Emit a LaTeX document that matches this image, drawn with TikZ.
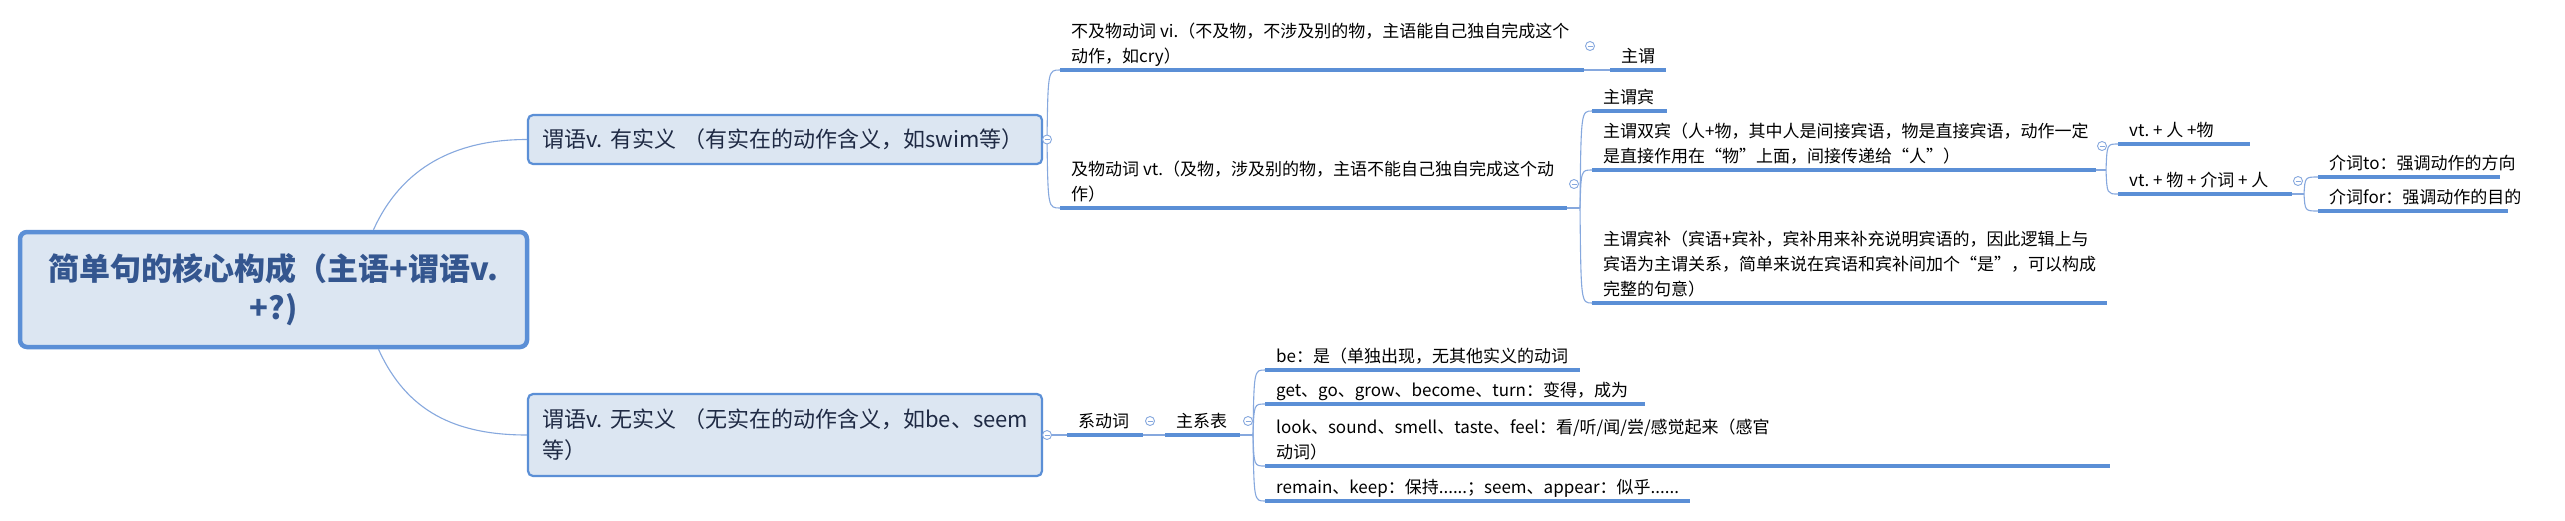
\documentclass[tikz,border=0pt]{standalone}
\usepackage{fontspec}
\setmainfont{Noto Sans CJK SC}
\usetikzlibrary{calc}
\definecolor{boxfill}{HTML}{DCE6F2}
\definecolor{boxline}{HTML}{5B8FD6}
\definecolor{ulcol}{HTML}{5B8FD6}
\definecolor{conncol}{HTML}{86A8DE}
\definecolor{roottext}{HTML}{34568F}
\definecolor{midtext}{HTML}{1F2A44}
\tikzset{
  rootbox/.style={draw=boxline, line width=4.5pt, fill=boxfill, rounded corners=7pt,
    minimum width=507pt, minimum height=115pt, align=center,
    font=\fontsize{31}{39}\selectfont\bfseries, text=roottext},
  midbox/.style={draw=boxline, line width=2.2pt, fill=boxfill, rounded corners=5pt,
    minimum width=514pt, align=left, text width=486pt, inner xsep=14pt,
    font=\fontsize{22}{31}\selectfont, text=midtext},
  utopic/.style={font=\fontsize{17}{25}\selectfont, inner xsep=11pt, inner ysep=0pt,
    anchor=south west, align=left, execute at end node=\strut},
  uline/.style={draw=ulcol, line width=3.2pt},
  conn/.style={draw=conncol, line width=1.1pt},
  collapse/.style={circle, draw=conncol, fill=white, line width=0.9pt, minimum size=9pt,
    inner sep=0pt, path picture={\draw[conncol, line width=0.9pt]
      ([xshift=-2.5pt]path picture bounding box.center) -- ([xshift=2.5pt]path picture bounding box.center);}},
}
\newcommand\brk[2]{\draw[conn] (#1) .. controls ($(#1 |- #2)+(1,0)$) and ($(#1 |- #2)+(1,0)$) .. (#2);}
\begin{document}
\begin{tikzpicture}[x=1pt,y=-1pt]
\fill[white] (0,0) rectangle (2565,520);
\useasboundingbox (0,0) rectangle (2565,520);

% main boxes
\node[rootbox] (root) at (273.5,289.5) {简单句的核心构成（主语+谓语v.\\+?)};
\node[midbox, minimum height=49pt] (A) at (785,139.5) {谓语v.~有实义~（有实在的动作含义，如swim等）};
\node[midbox, minimum height=82pt] (B) at (785,435) {谓语v.~无实义~（无实在的动作含义，如be、seem\\等）};

% upper branch topics
\node[utopic] (vi) at (1060,70) {不及物动词~vi.（不及物，不涉及别的物，主语能自己独自完成这个\\动作，如cry）};
\draw[uline] (vi.south west) -- ++(524,0) coordinate (vi-e);
\node[utopic] (zw) at (1610,70) {主谓};
\draw[uline] (zw.south west) -- ++(56,0) coordinate (zw-e);
\node[utopic] (vt) at (1060,208) {及物动词~vt.（及物，涉及别的物，主语不能自己独自完成这个动\\作）};
\draw[uline] (vt.south west) -- ++(507,0) coordinate (vt-e);
\node[utopic] (zwb) at (1592,111) {主谓宾};
\draw[uline] (zwb.south west) -- ++(75,0) coordinate (zwb-e);
\node[utopic] (sb) at (1592,170) {主谓双宾（人+物，其中人是间接宾语，物是直接宾语，动作一定\\是直接作用在“物”上面，间接传递给“人”）};
\draw[uline] (sb.south west) -- ++(504,0) coordinate (sb-e);
\node[utopic] (sbb) at (1592,303) {主谓宾补（宾语+宾补，宾补用来补充说明宾语的，因此逻辑上与\\宾语为主谓关系，简单来说在宾语和宾补间加个“是”，可以构成\\完整的句意）};
\draw[uline] (sbb.south west) -- ++(515,0) coordinate (sbb-e);
\node[utopic] (v1) at (2118,144) {vt.~+~人~+物};
\draw[uline] (v1.south west) -- ++(132,0) coordinate (v1-e);
\node[utopic] (v2) at (2118,194) {vt.~+~物~+~介词~+~人};
\draw[uline] (v2.south west) -- ++(174,0) coordinate (v2-e);
\node[utopic] (pto) at (2318,177) {介词to：强调动作的方向};
\draw[uline] (pto.south west) -- ++(182,0) coordinate (pto-e);
\node[utopic] (pfor) at (2318,211) {介词for：强调动作的目的};
\draw[uline] (pfor.south west) -- ++(190,0) coordinate (pfor-e);

% lower branch topics
\node[utopic] (xdc) at (1067,435) {系动词};
\draw[uline] (xdc.south west) -- ++(76,0) coordinate (xdc-e);
\node[utopic] (zxb) at (1165,435) {主系表};
\draw[uline] (zxb.south west) -- ++(75,0) coordinate (zxb-e);
\node[utopic] (be) at (1265,370) {be：是（单独出现，无其他实义的动词};
\draw[uline] (be.south west) -- ++(315,0) coordinate (be-e);
\node[utopic] (get) at (1265,404) {get、go、grow、become、turn：变得，成为};
\draw[uline] (get.south west) -- ++(380,0) coordinate (get-e);
\node[utopic] (look) at (1265,466) {look、sound、smell、taste、feel：看/听/闻/尝/感觉起来（感官\\动词）};
\draw[uline] (look.south west) -- ++(845,0) coordinate (look-e);
\node[utopic] (remain) at (1265,501) {remain、keep：保持......；seem、appear：似乎......};
\draw[uline] (remain.south west) -- ++(425,0) coordinate (remain-e);

% junction / collapse positions
\coordinate (cA) at (1047,139.5);
\coordinate (cB) at (1047,435);
\coordinate (cvi) at (1590,46);
\coordinate (cvt) at (1574,184);
\coordinate (csb) at (2102,146);
\coordinate (cv2) at (2298,181);
\coordinate (cxdc) at (1150,421);
\coordinate (czxb) at (1248,421);
\coordinate (jvt) at ($(vt-e)+(13,0)$);
\coordinate (jsb) at ($(sb-e)+(10,0)$);
\coordinate (jv2) at ($(v2-e)+(12,0)$);
\coordinate (jz) at ($(zxb-e)+(13,0)$);

% connectors
\draw[conn] ($(root.north)+(100,0)$) .. controls +(28,-62) and +(-72,0) .. (A.west);
\draw[conn] ($(root.south)+(105,0)$) .. controls +(28,62) and +(-72,0) .. (B.west);
\draw[conn] (A.east) -- (cA);
\brk{cA}{vi.south west}
\brk{cA}{vt.south west}
\draw[conn] (vi-e) -- (zw.south west);
\draw[conn] (vt-e) -- (jvt);
\brk{jvt}{zwb.south west}
\brk{jvt}{sb.south west}
\brk{jvt}{sbb.south west}
\draw[conn] (sb-e) -- (jsb);
\brk{jsb}{v1.south west}
\brk{jsb}{v2.south west}
\draw[conn] (v2-e) -- (jv2);
\brk{jv2}{pto.south west}
\brk{jv2}{pfor.south west}
\draw[conn] (B.east) -- (xdc.south west);
\draw[conn] (xdc-e) -- (zxb.south west);
\draw[conn] (zxb-e) -- (jz);
\brk{jz}{be.south west}
\brk{jz}{get.south west}
\brk{jz}{look.south west}
\brk{jz}{remain.south west}

% collapse buttons
\foreach \c in {cA,cB,cvi,cvt,csb,cv2,cxdc,czxb} \node[collapse] at (\c) {};
\end{tikzpicture}
\end{document}
